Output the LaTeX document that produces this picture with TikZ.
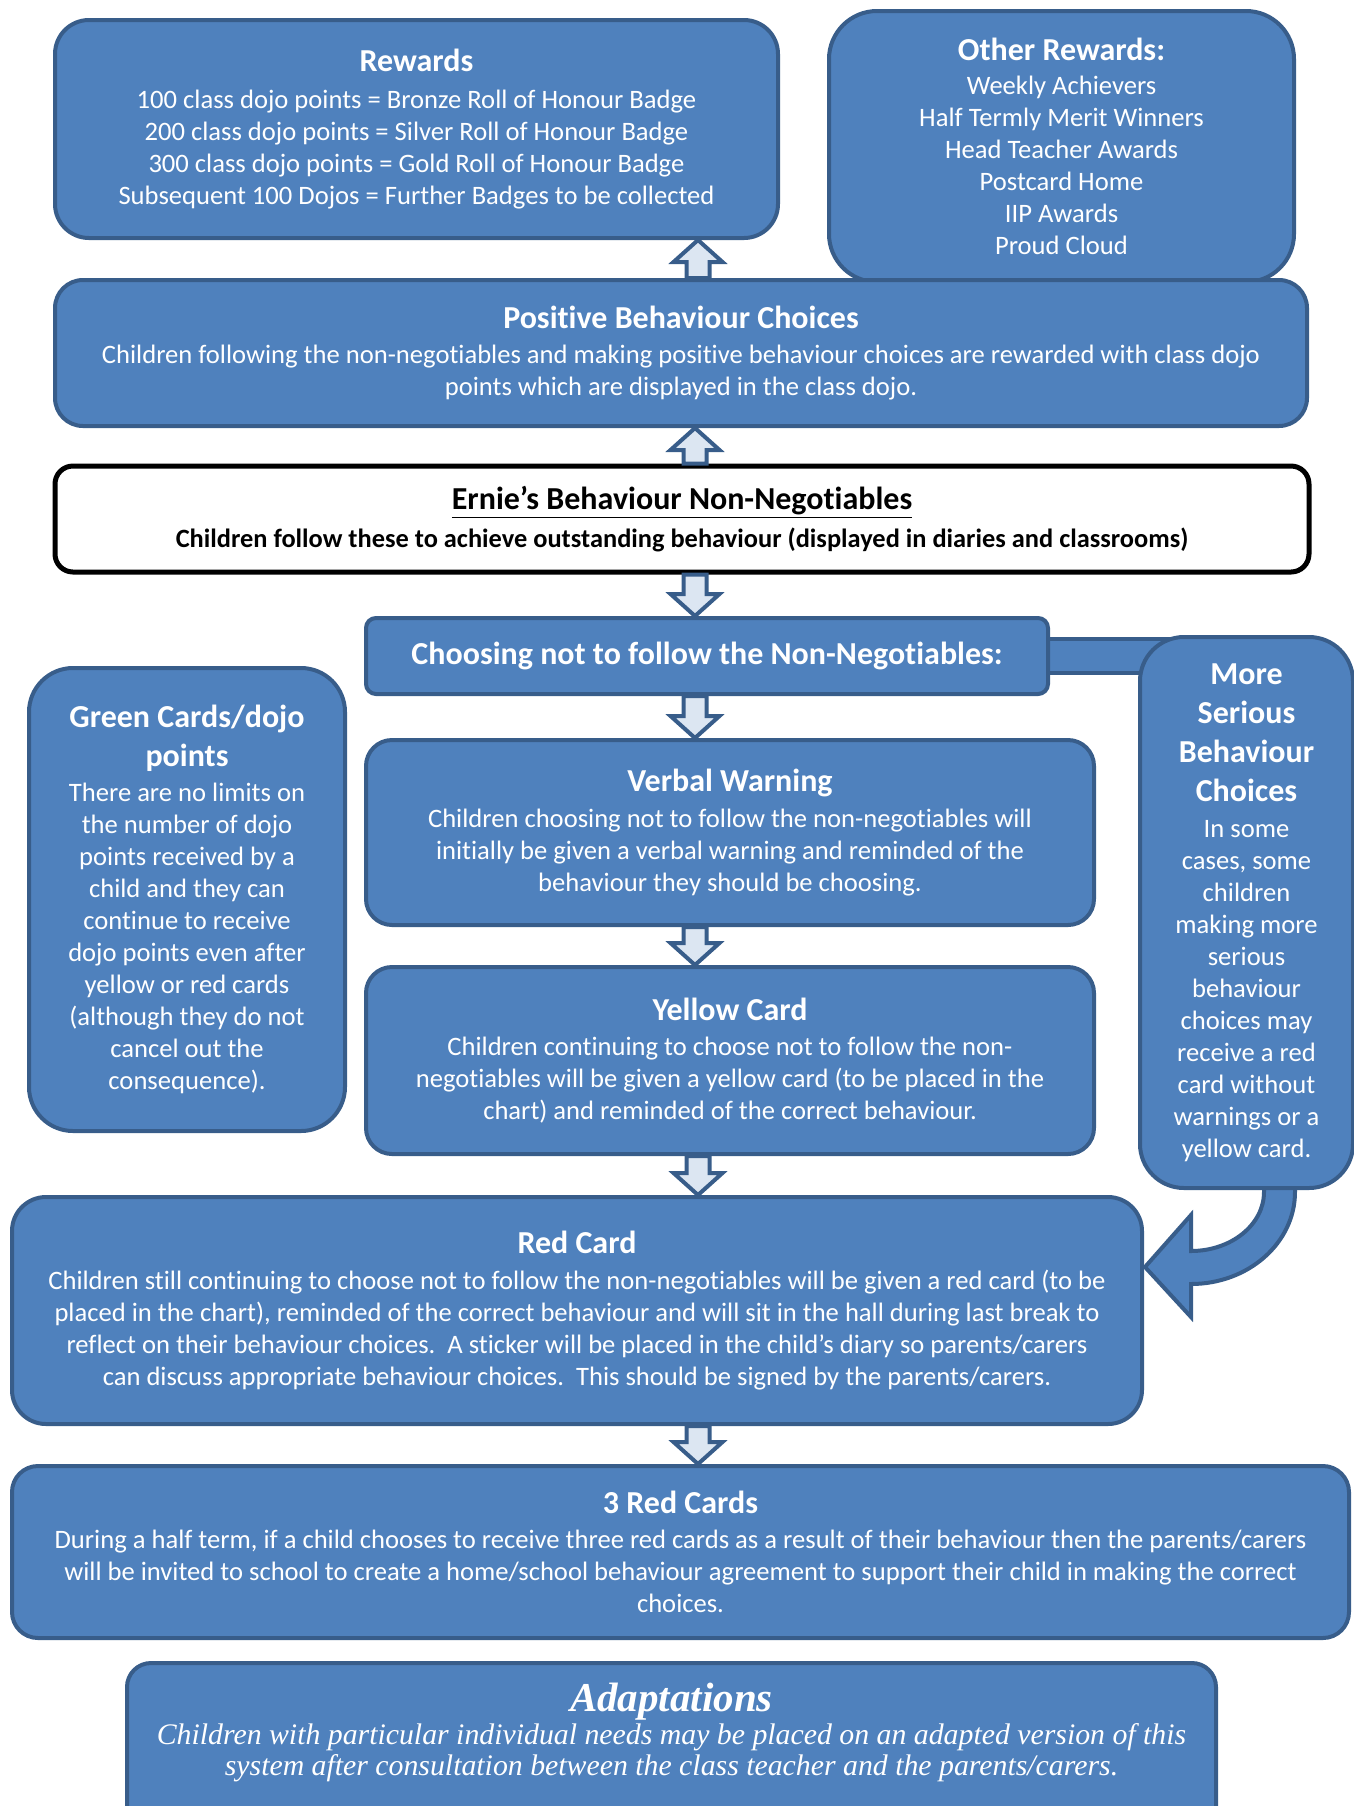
\documentclass[tikz,border=0pt]{standalone}
\usepackage{fontspec}
\setmainfont{Carlito}[Ligatures=NoCommon]
\newfontfamily\adaptfont{Liberation Serif}
\usetikzlibrary{positioning,calc}
\definecolor{boxblue}{HTML}{4F81BD}
\definecolor{edgeblue}{HTML}{385D8A}
\definecolor{paleblue}{HTML}{DCE6F2}
\pgfdeclarelayer{back}
\pgfsetlayers{back,main}
\newcommand\boxtitle[1]{{\fontsize{16}{19.5}\selectfont\bfseries #1}}
\newcommand\blockup[2]{\draw[blockarr] let \p1=#1, \p2=#2 in
  (\x1-5.75pt,\y1) -- (\x1-5.75pt,\y2-11pt) -- (\x1-12.25pt,\y2-11pt) -- (\x1,\y2)
  -- (\x1+12.25pt,\y2-11pt) -- (\x1+5.75pt,\y2-11pt) -- (\x1+5.75pt,\y1) -- cycle;}
\newcommand\blockdown[2]{\draw[blockarr] let \p1=#1, \p2=#2 in
  (\x1-5.75pt,\y1) -- (\x1-5.75pt,\y2+11pt) -- (\x1-12.25pt,\y2+11pt) -- (\x1,\y2)
  -- (\x1+12.25pt,\y2+11pt) -- (\x1+5.75pt,\y2+11pt) -- (\x1+5.75pt,\y1) -- cycle;}

\begin{document}
\begin{tikzpicture}[x=0.5pt,y=-0.5pt,
  box/.style={draw=edgeblue,fill=boxblue,line width=2pt,text=white,align=center,
    inner sep=0pt,font=\fontsize{13.3}{16}\selectfont},
  blockarr/.style={draw=edgeblue,fill=paleblue,line width=2pt,line join=miter},
  joinbar/.style={draw=edgeblue,fill=boxblue,line width=2pt,line join=miter}]
\useasboundingbox (0,0) rectangle (1354,1806);
\clip (0,0) rectangle (1354,1806);
\coordinate (mid) at (695,0);
\coordinate (midb) at (698,0);
\node[box,minimum width=361.5pt,minimum height=109pt,rounded corners=17pt] (rew) at (416.5,129)
  {\boxtitle{Rewards}\\[2.4pt]
   100 class dojo points = Bronze Roll of Honour Badge\\
   200 class dojo points = Silver Roll of Honour Badge\\
   300 class dojo points = Gold Roll of Honour Badge\\
   Subsequent 100 Dojos = Further Badges to be collected};
\node[box,minimum width=232.5pt,minimum height=135.5pt,rounded corners=24pt] (oth) at (1061.5,146.5)
  {\boxtitle{Other Rewards:}\\[1.3pt]
   Weekly Achievers\\
   Half Termly Merit Winners\\
   Head Teacher Awards\\
   Postcard Home\\
   IIP Awards\\
   Proud Cloud};
\node[box,minimum width=626pt,minimum height=73pt,rounded corners=14pt] (pos) at (681,353)
  {\boxtitle{Positive Behaviour Choices}\\[1.3pt]
   Children following the non-negotiables and making positive behaviour choices are rewarded with class dojo\\
   points which are displayed in the class dojo.};
\node[box,draw=black,fill=white,text=black,line width=2.5pt,rounded corners=9pt,
  minimum width=627pt,minimum height=53pt,font=\fontsize{13.2}{14}\selectfont\bfseries] (ern) at (682,519)
  {{\fontsize{16}{17}\selectfont\underline{Ernie’s Behaviour Non-Negotiables}}\\[3.8pt]
   Children follow these to achieve outstanding behaviour (displayed in diaries and classrooms)};
\node[box,minimum width=341pt,minimum height=38pt,rounded corners=5pt] (cho) at (707,656)
  {\boxtitle{Choosing not to follow the Non-Negotiables:}};
\node[box,minimum width=158pt,minimum height=231.5pt,rounded corners=22pt] (grn) at (187,899.5)
  {\boxtitle{Green Cards/dojo}\\[3.5pt]
   \boxtitle{points}\\[1.3pt]
   There are no limits on\\
   the number of dojo\\
   points received by a\\
   child and they can\\
   continue to receive\\
   dojo points even after\\
   yellow or red cards\\
   (although they do not\\
   cancel out the\\
   consequence).};
\node[box,minimum width=364pt,minimum height=92.5pt,rounded corners=13pt] (vrb) at (730,832.5)
  {\boxtitle{Verbal Warning}\\[1.8pt]
   Children choosing not to follow the non-negotiables will\\
   initially be given a verbal warning and reminded of the\\
   behaviour they should be choosing.};
\node[box,minimum width=364pt,minimum height=93.5pt,rounded corners=13pt] (yel) at (730,1060.5)
  {\boxtitle{Yellow Card}\\[1.8pt]
   Children continuing to choose not to follow the non-\\
   negotiables will be given a yellow card (to be placed in the\\
   chart) and reminded of the correct behaviour.};
\node[box,minimum width=565pt,minimum height=113.5pt,rounded corners=17pt] (red) at (577,1310.5)
  {\boxtitle{Red Card}\\[1.8pt]
   Children still continuing to choose not to follow the non-negotiables will be given a red card (to be\\
   placed in the chart), reminded of the correct behaviour and will sit in the hall during last break to\\
   reflect on their behaviour choices.\ \ A sticker will be placed in the child’s diary so parents/carers\\
   can discuss appropriate behaviour choices.\ \ This should be signed by the parents/carers.};
\node[box,minimum width=106.5pt,minimum height=275.5pt,rounded corners=22pt] (ser) at (1246.5,912.5)
  {\boxtitle{More}\\[3.5pt]
   \boxtitle{Serious}\\[3.5pt]
   \boxtitle{Behaviour}\\[3.5pt]
   \boxtitle{Choices}\\[1.8pt]
   In some\\
   cases, some\\
   children\\
   making more\\
   serious\\
   behaviour\\
   choices may\\
   receive a red\\
   card without\\
   warnings or a\\
   yellow card.};
\node[box,minimum width=668.5pt,minimum height=86pt,rounded corners=13pt] (thr) at (680.5,1552)
  {\boxtitle{3 Red Cards}\\[1.8pt]
   During a half term, if a child chooses to receive three red cards as a result of their behaviour then the parents/carers\\
   will be invited to school to create a home/school behaviour agreement to support their child in making the correct\\
   choices.};
\node[box,anchor=north,minimum width=544.5pt,minimum height=94.5pt,rounded corners=12pt] (adp) at (671.5,1661) {};
\node[below=11pt of adp.north,text=white,align=center,inner sep=0pt,
  font=\adaptfont\itshape\fontsize{14.9}{15.5}\selectfont] (adptxt)
  {{\fontsize{20.5}{22}\selectfont\bfseries Adaptations}\\[1pt]
   Children with particular individual needs may be placed on an adapted version of this\\
   system after consultation between the class teacher and the parents/carers.};
\blockup{(pos.north -| midb)}{(rew.south -| midb)}
\blockup{(ern.north -| mid)}{(pos.south -| mid)}
\blockdown{(ern.south -| mid)}{(cho.north -| mid)}
\blockdown{(cho.south -| mid)}{(vrb.north -| mid)}
\blockdown{(vrb.south -| mid)}{(yel.north -| mid)}
\blockdown{(yel.south -| midb)}{(red.north -| midb)}
\blockdown{(red.south -| midb)}{(thr.north -| midb)}
\begin{pgfonlayer}{back}
\draw[joinbar] ($(cho.east)+(-10,-17)$) rectangle ($(cho.east -| ser.west)+(40,17)$);
\begin{scope}[shift={(red.east |- ser.south)}]
\draw[joinbar] (151,-18) -- (151,2) .. controls (151,52.8) and (104.4,94) .. (47,94)
  -- (47,127) -- (1,77) -- (47,25) -- (47,61) .. controls (87.3,61) and (120,34.6) .. (120,2)
  -- (120,-18) -- cycle;
\end{scope}
\end{pgfonlayer}
\end{tikzpicture}
\end{document}
